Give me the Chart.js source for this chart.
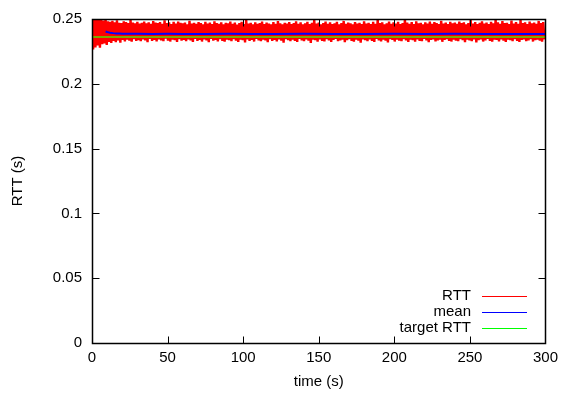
<!DOCTYPE html>
<html>
<head>
<meta charset="utf-8">
<script src="https://cdn.jsdelivr.net/npm/chart.js@4.4.1/dist/chart.umd.min.js"></script>
<style>
  html, body { margin: 0; padding: 0; background: #fff; }
  canvas { display: block; }
</style>
</head>
<body>
<canvas id="rtt-chart" width="564" height="398"></canvas>
<script>
// RTT samples, one high/low pair every 1.5 s (values in ms)
var rttStep = 1.5;
var rttHigh = [
  250.0, 249.8, 250.0, 249.5, 249.9, 248.8, 249.6, 248.2, 247.9, 248.6, 247.4, 248.9, 247.1, 246.8, 248.3, 247.6, 246.9, 249.2, 247.3, 246.7,
  247.8, 246.4, 247.0, 248.1, 246.6, 247.5, 246.2, 248.4, 247.2, 246.9, 247.7, 246.3, 249.0, 246.8, 247.4, 246.1, 247.9, 246.5, 248.0, 247.1,
  246.7, 247.3, 245.9, 248.6, 246.4, 247.0, 246.2, 247.6, 246.8, 245.8, 247.9, 246.5, 247.2, 246.0, 248.3, 246.9, 246.3, 247.4, 245.9, 247.0,
  246.6, 248.1, 246.2, 247.3, 245.7, 246.9, 247.8, 246.1, 249.1, 246.4, 247.0, 245.9, 247.5, 246.3, 246.8, 248.0, 246.0, 247.2, 246.5, 245.8,
  247.6, 246.2, 248.4, 246.7, 245.9, 247.1, 246.4, 247.7, 246.0, 246.9, 248.2, 246.3, 247.4, 245.8, 246.6, 247.9, 246.1, 247.0, 249.4, 246.5,
  247.2, 245.9, 246.8, 248.0, 246.3, 247.5, 246.0, 246.7, 247.8, 245.8, 246.9, 248.5, 246.2, 247.3, 246.6, 245.9, 247.6, 246.4, 247.0, 246.1,
  248.2, 246.5, 247.1, 246.0, 247.8, 246.3, 249.6, 246.8, 247.4, 245.9, 246.7, 248.0, 246.2, 247.5, 246.4, 247.9, 246.0, 246.8, 249.7, 247.2,
  246.3, 247.6, 246.0, 248.3, 246.7, 247.1, 245.8, 247.4, 246.5, 248.0, 246.2, 247.7, 246.9, 246.1, 248.6, 246.4, 247.3, 246.0, 247.8, 246.6,
  247.2, 246.3, 248.1, 246.8, 247.5, 245.9, 246.9, 249.3, 246.4, 247.6, 246.1, 247.0, 248.2, 246.5, 247.3, 246.0, 247.9, 246.7, 249.8, 247.4,
  246.2, 248.4, 246.8, 247.1, 246.0, 248.7, 246.5, 247.7, 246.3, 249.2, 246.9, 247.5, 246.1, 248.0, 246.6, 247.3, 246.2, 248.5, 246.8, 247.6
];
var rttLow = [
  226.5, 228.0, 229.5, 227.8, 230.5, 231.2, 230.0, 232.4, 231.6, 233.0, 232.1, 233.4, 231.8, 233.9, 232.6, 234.1, 233.2, 232.5, 234.4, 233.0,
  233.7, 232.8, 234.2, 233.4, 232.2, 234.6, 233.1, 233.8, 232.7, 234.3, 233.5, 232.9, 234.8, 233.3, 232.6, 234.0, 233.6, 232.4, 234.5, 233.2,
  233.9, 232.8, 234.3, 233.5, 232.3, 234.7, 233.0, 233.8, 232.6, 234.2, 233.4, 232.1, 234.6, 233.3, 233.9, 232.7, 234.4, 233.1, 232.5, 234.0,
  233.6, 232.9, 234.5, 233.2, 232.4, 234.1, 233.7, 231.9, 234.3, 233.0, 233.8, 232.6, 234.6, 233.4, 232.8, 234.0, 233.5, 232.2, 234.4, 233.1,
  233.9, 232.7, 234.2, 233.3, 231.8, 234.5, 233.6, 232.9, 234.1, 233.0, 232.4, 234.7, 233.5, 232.8, 234.3, 233.2, 231.6, 234.0, 233.7, 232.5,
  234.2, 233.1, 232.6, 234.5, 233.4, 232.3, 233.9, 234.6, 232.8, 233.5, 234.1, 232.2, 233.7, 234.4, 233.0, 232.5, 234.0, 233.3, 231.7, 234.3,
  233.6, 232.9, 234.2, 233.1, 232.4, 234.6, 233.5, 232.7, 234.0, 233.3, 232.0, 234.4, 233.8, 232.6, 234.1, 233.2, 232.8, 234.5, 233.4, 232.3,
  234.0, 233.6, 232.5, 234.3, 233.0, 232.8, 234.6, 233.4, 232.1, 233.9, 234.2, 232.7, 233.5, 234.0, 232.4, 233.8, 234.5, 233.1, 232.6, 234.1,
  233.3, 232.9, 234.4, 233.6, 232.2, 234.0, 233.5, 232.8, 234.3, 231.9, 233.7, 234.2, 232.6, 233.4, 234.6, 233.0, 232.5, 234.1, 233.8, 232.7,
  234.3, 233.2, 232.4, 234.0, 233.6, 232.9, 234.5, 233.1, 232.3, 233.9, 234.2, 232.8, 233.5, 234.4, 232.6, 233.7, 234.0, 233.2, 232.5, 234.3
];

// running mean (s)
var meanTime   = [9, 10, 11, 12, 14, 16, 18, 20, 25, 30, 40, 50, 60, 75, 90, 105, 120, 140, 160, 180, 200, 220, 240, 260, 280, 300];
var meanValues = [0.2404, 0.2400, 0.2397, 0.2394, 0.2391, 0.2389, 0.2388, 0.2387, 0.2386, 0.2386, 0.2385, 0.2386, 0.2385, 0.2385,
                  0.2386, 0.2385, 0.2385, 0.2386, 0.2385, 0.2385, 0.2386, 0.2385, 0.2386, 0.2385, 0.2385, 0.2385];

// target RTT (s)
var targetTime   = [0, 300];
var targetValues = [0.2362, 0.2362];

var xTicks = [0, 50, 100, 150, 200, 250, 300];
var yTicks = [0, 0.05, 0.1, 0.15, 0.2, 0.25];

var legendItems = [
  { label: 'RTT',        color: '#ff0000' },
  { label: 'mean',       color: '#0000ff' },
  { label: 'target RTT', color: '#00ff00' }
];

var FONT = '"Liberation Sans", Arial, sans-serif';

// high/low pairs interleaved so the line fills the band
var rttPoints = [];
rttHigh.forEach(function(h, i) {
  rttPoints.push({ x: i * rttStep,                 y: h / 1000 });
  rttPoints.push({ x: i * rttStep + rttStep / 2,   y: rttLow[i] / 1000 });
});
var meanPoints   = meanTime.map(function(t, i) { return { x: t, y: meanValues[i] }; });
var targetPoints = targetTime.map(function(t, i) { return { x: t, y: targetValues[i] }; });

// gnuplot style frame: border plus inward ticks on all four sides
var framePlugin = {
  id: 'frame',
  afterDatasetsDraw: function(chart) {
    var ctx = chart.ctx, a = chart.chartArea;
    var xs = chart.scales.x, ys = chart.scales.y;
    var L = Math.round(a.left) + 0.5, R = Math.round(a.right) + 0.5;
    var T = Math.round(a.top) + 0.5,  B = Math.round(a.bottom) + 0.5;
    ctx.save();
    ctx.strokeStyle = '#000';
    ctx.lineWidth = 1;
    ctx.beginPath();
    xTicks.forEach(function(v) {
      var px = Math.round(xs.getPixelForValue(v)) + 0.5;
      ctx.moveTo(px, B); ctx.lineTo(px, B - 7);
      ctx.moveTo(px, T); ctx.lineTo(px, T + 7);
    });
    yTicks.forEach(function(v) {
      var py = Math.round(ys.getPixelForValue(v)) + 0.5;
      ctx.moveTo(L, py); ctx.lineTo(L + 7, py);
      ctx.moveTo(R, py); ctx.lineTo(R - 7, py);
    });
    ctx.stroke();
    ctx.lineWidth = 1.5;
    ctx.strokeRect(L, T, R - L, B - T);
    ctx.restore();
  }
};

// key in the lower right corner: text first, sample line after
var keyPlugin = {
  id: 'key',
  afterDraw: function(chart) {
    var ctx = chart.ctx;
    ctx.save();
    ctx.font = '15px ' + FONT;
    ctx.textAlign = 'right';
    ctx.textBaseline = 'middle';
    legendItems.forEach(function(it, i) {
      var y = 296 + i * 16;
      ctx.fillStyle = '#000';
      ctx.fillText(it.label, 471, y);
      ctx.strokeStyle = it.color;
      ctx.lineWidth = 1;
      ctx.beginPath();
      ctx.moveTo(482, y + 0.5);
      ctx.lineTo(527, y + 0.5);
      ctx.stroke();
    });
    ctx.restore();
  }
};

new Chart(document.getElementById('rtt-chart'), {
  type: 'line',
  data: {
    datasets: [
      { label: 'RTT', data: rttPoints, borderColor: '#ff0000', borderWidth: 2.4, borderJoinStyle: 'bevel', pointRadius: 0, order: 3 },
      { label: 'mean', data: meanPoints, borderColor: '#0000ff', borderWidth: 2, pointRadius: 0, order: 2 },
      { label: 'target RTT', data: targetPoints, borderColor: 'rgba(60,255,0,0.65)', borderWidth: 2, pointRadius: 0, order: 1 }
    ]
  },
  options: {
    responsive: false,
    animation: false,
    events: [],
    layout: { padding: { top: 14, right: 18, left: 0, bottom: 0 } },
    plugins: { legend: { display: false }, tooltip: { enabled: false } },
    scales: {
      x: {
        type: 'linear', min: 0, max: 300,
        afterFit: function(s) { s.height = 55; },
        afterBuildTicks: function(s) { s.ticks = xTicks.map(function(v) { return { value: v }; }); },
        grid: { display: false, drawTicks: false },
        border: { display: false },
        ticks: { color: '#000', padding: 6, maxRotation: 0, font: { family: FONT, size: 15 } },
        title: { display: true, text: 'time (s)', color: '#000', padding: { top: 0, bottom: 7 }, font: { family: FONT, size: 15 } }
      },
      y: {
        type: 'linear', min: 0, max: 0.25,
        afterFit: function(s) { s.width = 92; },
        afterBuildTicks: function(s) { s.ticks = yTicks.map(function(v) { return { value: v }; }); },
        grid: { display: false, drawTicks: false },
        border: { display: false },
        ticks: {
          color: '#000', padding: 10, font: { family: FONT, size: 15 },
          callback: function(v) { return String(parseFloat(v.toFixed(2))); }
        },
        title: { display: true, text: 'RTT (s)', color: '#000', padding: { top: 9, bottom: 0 }, font: { family: FONT, size: 15 } }
      }
    }
  },
  plugins: [framePlugin, keyPlugin]
});
</script>
</body>
</html>
